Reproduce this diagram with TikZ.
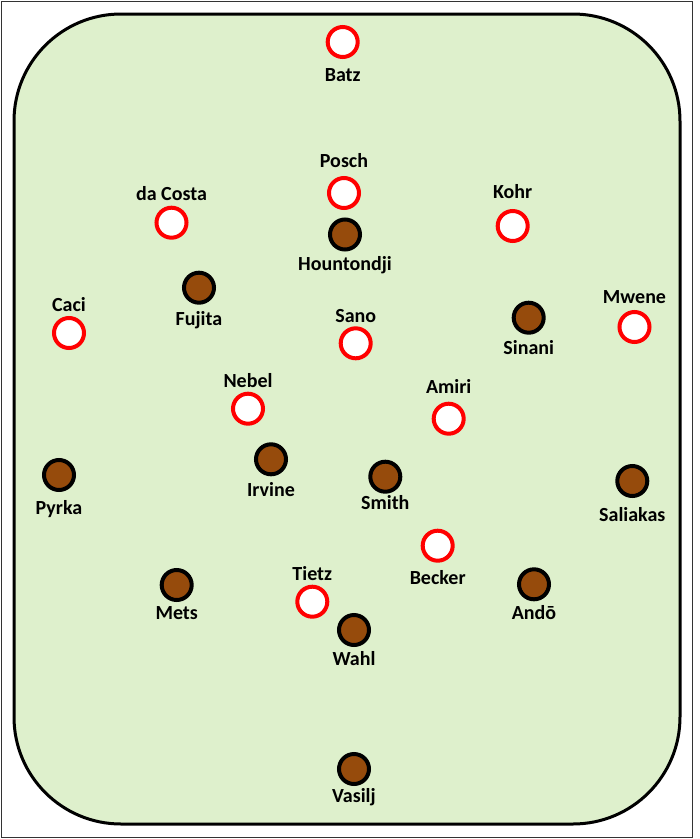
\documentclass[tikz,border=0pt]{standalone}
\usepackage{fontspec}
\setmainfont{Carlito}
\usepackage{tikz}
\usetikzlibrary{positioning}
\definecolor{pitch}{RGB}{222,240,204}
\definecolor{kit}{RGB}{150,75,12}

\begin{document}
\begin{tikzpicture}[
  x=1pt, y=-1pt,
  away/.style={circle, draw=red, fill=white, line width=4pt, minimum size=30pt, inner sep=0pt},
  home/.style={circle, draw=black, fill=kit, line width=4pt, minimum size=30pt, inner sep=0pt},
  lbl/.style={font=\bfseries\fontsize{20}{24}\selectfont, inner sep=0pt, outer sep=0pt, text height=12.9pt, text depth=0pt},
  every label/.style={lbl}
]
\useasboundingbox (0,0) rectangle (700,839);
\draw[line width=1pt, draw=black!80] (1,1) rectangle (692,837);
\draw[line width=3pt, fill=pitch, rounded corners=107pt] (14,14) rectangle (680,824);

% away side
\node[away, label={[label distance=9.5pt]below:Batz}] (batz) at (342.7,42) {};
\node[away, label={[label distance=8.5pt]above:Posch}] (posch) at (344,193) {};
\node[away, label={[label distance=5pt]above:da Costa}] (dacosta) at (171.5,222.7) {};
\node[away, label={[label distance=11pt]above:Kohr}] (kohr) at (512.7,226) {};
\node[away, label={[label distance=5pt]above:Caci}] (caci) at (69,333) {};
\node[away, label={[label distance=3.5pt]above:Sano}] (sano) at (355.7,343.3) {};
\node[away, label={[label distance=7pt]above:Mwene}] (mwene) at (634.5,327) {};
\node[away, label={[label distance=4.5pt]above:Nebel}] (nebel) at (248,408.7) {};
\node[away, label={[label distance=8pt]above:Amiri}] (amiri) at (448.7,418.7) {};
\node[away, label={[label distance=8.5pt]below:Becker}] (becker) at (437.7,545.7) {};
\node[away, label={[label distance=4pt]above:Tietz}] (tietz) at (312.3,601.7) {};

% home side
\node[home, label={[label distance=6.5pt]below:Hountondji}] (hountondji) at (345,234.5) {};
\node[home, label={[label distance=8pt]below:Fujita}] (fujita) at (199,287.7) {};
\node[home, label={[label distance=7pt]below:Sinani}] (sinani) at (528.7,317.7) {};
\node[home, label={[label distance=7pt]below:Irvine}] (irvine) at (271,459.3) {};
\node[home, label={[label distance=2.5pt]below:Smith}] (smith) at (385.3,476.7) {};
\node[home, label={[label distance=10pt]below:Pyrka}] (pyrka) at (59,475) {};
\node[home, label={[label distance=11pt]below:Saliakas}] (saliakas) at (632.3,481) {};
\node[home, label={[label distance=4.5pt]below:Mets}] (mets) at (176.7,585) {};
\node[home, label={[label distance=5.5pt]below:Andō}] (ando) at (534,584.3) {};
\node[home, label={[label distance=6pt]below:Wahl}] (wahl) at (354,630) {};
\node[home, label={[label distance=4pt]below:Vasilj}] (vasilj) at (354,769) {};
\end{tikzpicture}
\end{document}
